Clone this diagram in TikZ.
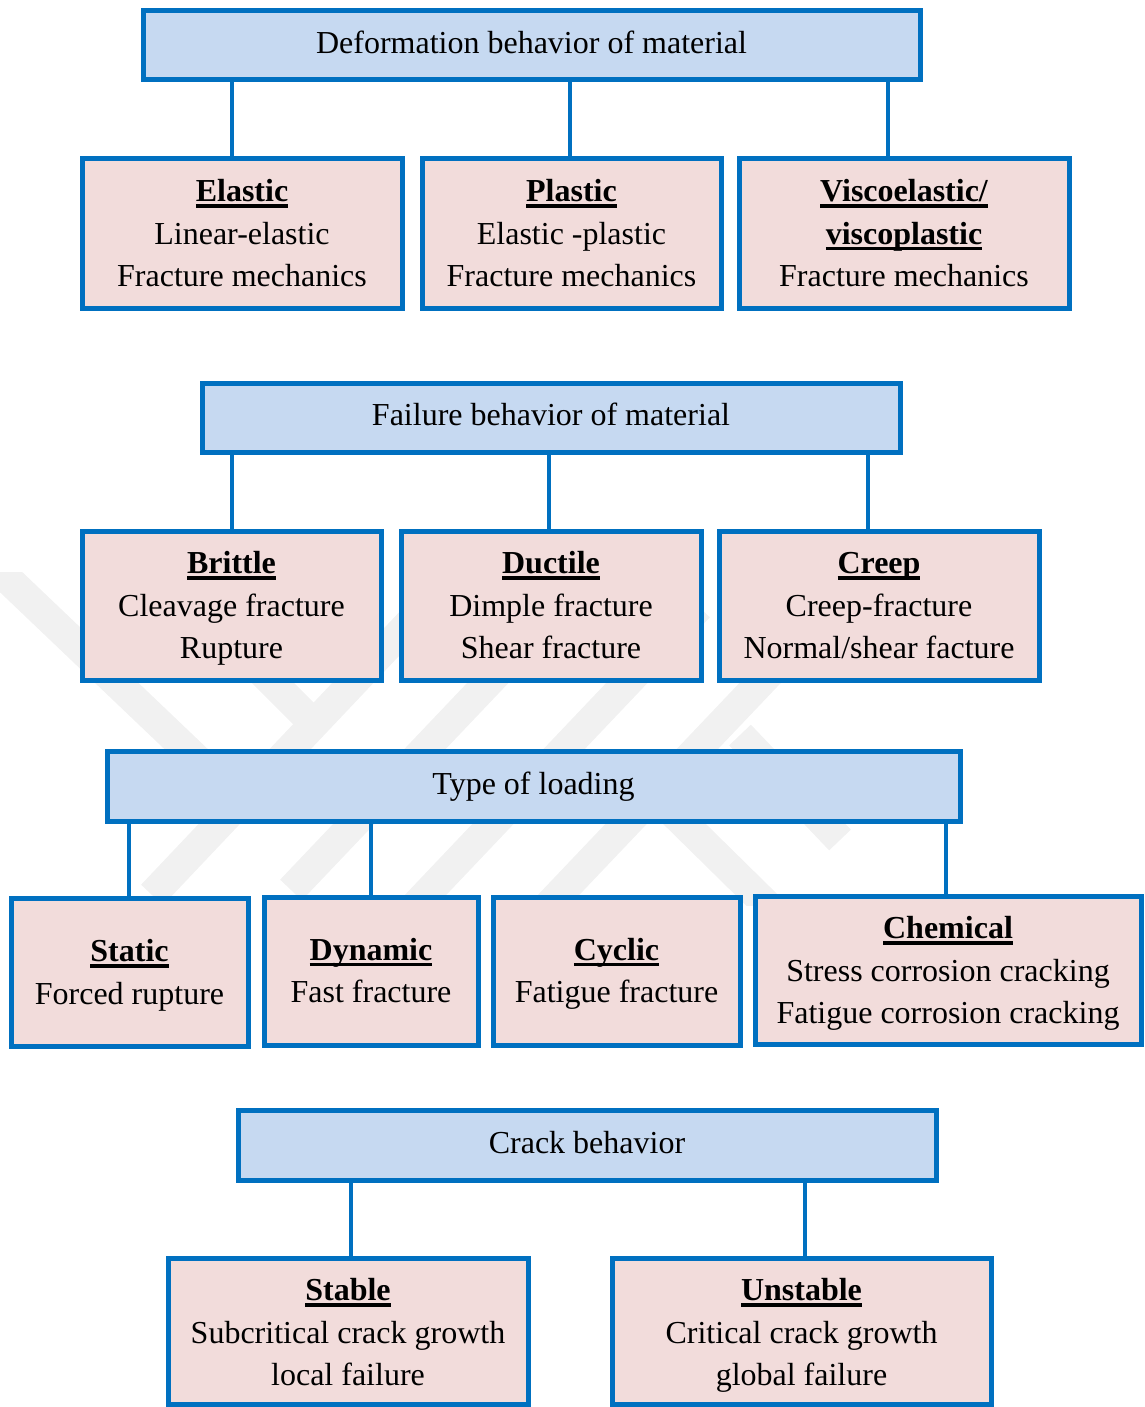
\documentclass[tikz,border=0pt]{standalone}
\usepackage{fontspec}
\setmainfont{Liberation Serif}
\definecolor{bdr}{HTML}{0070C0}
\definecolor{hfill}{HTML}{C6D9F1}
\definecolor{cfill}{HTML}{F2DCDB}
\definecolor{wm}{HTML}{F1F1F1}
\newcommand{\hd}[1]{\setbox0\hbox{\bfseries #1}\rlap{\rule[-6pt]{\wd0}{3.5pt}}\box0}
\newcommand{\tp}[1]{\rule{0pt}{#1}}
\begin{document}
\begin{tikzpicture}[x=1pt,y=-1pt,
  hdr/.style={draw=bdr, line width=5pt, fill=hfill, inner sep=0pt, minimum height=69pt, font=\fontsize{32}{42}\selectfont},
  box/.style={draw=bdr, line width=5pt, fill=cfill, inner sep=0pt, align=center, minimum height=149pt, font=\fontsize{32}{42.5}\selectfont},
  conn/.style={draw=bdr, line width=3.5pt},
  wmband/.style={draw=wm, line width=30pt, line cap=butt}]
\useasboundingbox (0,0) rectangle (1144,1407);
% faint watermark
\begin{scope}
\clip (0,572) rectangle (900,905);
\draw[wmband] (-10,562) -- (250,810);
\draw[wmband] (225,635) -- (318,728);
\draw[wmband] (152,895) -- (420,612);
\draw[wmband] (291,890) -- (560,607);
\draw[wmband] (416,905) -- (699,607);
\draw[wmband] (549,905) -- (820,620);
\draw[wmband] (650,790) -- (772,910);
\draw[wmband] (740,735) -- (840,840);
\end{scope}
% row 1
\node[hdr, minimum width=777pt] (h1) at (531.5,45.5) {\strut Deformation behavior of material};
\node[box, minimum width=320pt] (elastic) at (242,233.5) {\tp{34.6pt}\hd{Elastic}\\Linear-elastic\\Fracture mechanics\strut};
\node[box, minimum width=299pt] (plastic) at (571.5,233.5) {\tp{34.6pt}\hd{Plastic}\\Elastic -plastic\\Fracture mechanics\strut};
\node[box, minimum width=330pt] (visco) at (904,233.5) {\tp{34.6pt}\hd{Viscoelastic/}\\\hd{viscoplastic}\\Fracture mechanics\strut};
\draw[conn] ([xshift=-10pt]elastic.north) -- ([xshift=-10pt]elastic.north |- h1.south);
\draw[conn] ([xshift=-1.5pt]plastic.north) -- ([xshift=-1.5pt]plastic.north |- h1.south);
\draw[conn] ([xshift=-16pt]visco.north) -- ([xshift=-16pt]visco.north |- h1.south);
% row 2
\node[hdr, minimum width=698pt] (h2) at (551,417.5) {\strut Failure behavior of material};
\node[box, minimum width=299pt] (brittle) at (231.5,605.5) {\tp{34.6pt}\hd{Brittle}\\Cleavage fracture\\Rupture\strut};
\node[box, minimum width=300pt] (ductile) at (551,605.5) {\tp{34.6pt}\hd{Ductile}\\Dimple fracture\\Shear fracture\strut};
\node[box, minimum width=320pt] (creep) at (879,605.5) {\tp{34.6pt}\hd{Creep}\\Creep-fracture\\Normal/shear facture\strut};
\draw[conn] ([xshift=0.5pt]brittle.north) -- ([xshift=0.5pt]brittle.north |- h2.south);
\draw[conn] ([xshift=-2pt]ductile.north) -- ([xshift=-2pt]ductile.north |- h2.south);
\draw[conn] ([xshift=-11pt]creep.north) -- ([xshift=-11pt]creep.north |- h2.south);
% row 3
\node[hdr, minimum width=853pt, minimum height=70pt] (h3) at (533.5,786) {\strut Type of loading};
\node[box, minimum width=237pt, minimum height=148pt] (static) at (129.5,972) {\tp{34.6pt}\hd{Static}\\Forced rupture\strut};
\node[box, minimum width=214pt, minimum height=148pt] (dynamic) at (371,971) {\tp{34pt}\hd{Dynamic}\\Fast fracture\strut};
\node[box, minimum width=247pt, minimum height=148pt] (cyclic) at (616.5,971) {\tp{34pt}\hd{Cyclic}\\Fatigue fracture\strut};
\node[box, minimum width=386pt, minimum height=148pt] (chemical) at (948,970) {\tp{35.6pt}\hd{Chemical}\\Stress corrosion cracking\\Fatigue corrosion cracking\strut};
\draw[conn] ([xshift=-0.5pt]static.north) -- ([xshift=-0.5pt]static.north |- h3.south);
\draw[conn] (dynamic.north) -- (dynamic.north |- h3.south);
\draw[conn] ([xshift=-2pt]chemical.north) -- ([xshift=-2pt]chemical.north |- h3.south);
% row 4
\node[hdr, minimum width=698pt, minimum height=70pt] (h4) at (587,1145) {\strut Crack behavior};
\node[box, minimum width=360pt, minimum height=146pt] (stable) at (348,1331) {\tp{37.6pt}\hd{Stable}\\Subcritical crack growth\\local failure\strut};
\node[box, minimum width=379pt, minimum height=146pt] (unstable) at (801.5,1331) {\tp{37.6pt}\hd{Unstable}\\Critical crack growth\\global failure\strut};
\draw[conn] ([xshift=3pt]stable.north) -- ([xshift=3pt]stable.north |- h4.south);
\draw[conn] ([xshift=3.5pt]unstable.north) -- ([xshift=3.5pt]unstable.north |- h4.south);
\end{tikzpicture}
\end{document}
